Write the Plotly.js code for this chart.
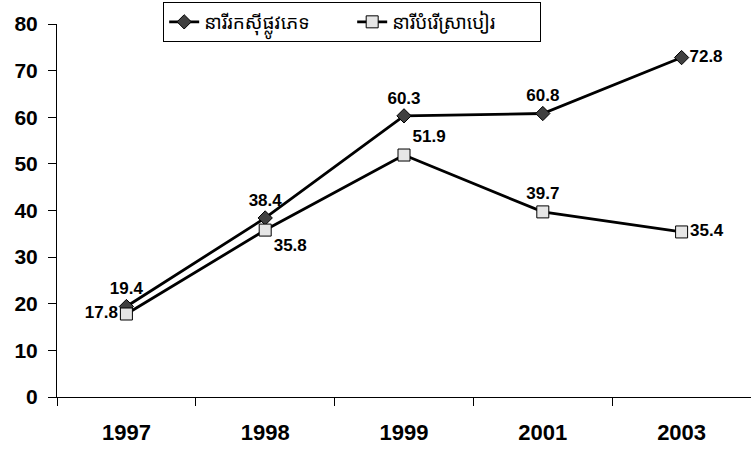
<!DOCTYPE html>
<html><head><meta charset="utf-8">
<script src="https://cdn.plot.ly/plotly-3.0.1.min.js"></script>
<style>html,body{margin:0;padding:0;background:#fff}</style>
</head><body>
<div id="chart" style="width:751px;height:452px"></div>
<script>
const years = ['1997','1998','1999','2001','2003'];
const seriesNames = ['នារីរកស៊ីផ្លូវភេទ', 'នារីបំរើស្រាបៀរ'];
const sexWorkers = [19.4, 38.4, 60.3, 60.8, 72.8];
const beerGirls = [17.8, 35.8, 51.9, 39.7, 35.4];
const yTicks = [0,10,20,30,40,50,60,70,80];

const fontFam = 'Liberation Sans, Arial, "Noto Sans Khmer", sans-serif';
const labelFont = {family: fontFam, size: 17, color: '#000', weight: 700};

const traces = [
  {
    x: years, y: sexWorkers, name: seriesNames[0], type: 'scatter', mode: 'lines+markers+text',
    line: {color: '#000', width: 2.8},
    marker: {symbol: 'diamond', size: 11, color: '#404040', line: {color: '#000', width: 1}},
    text: sexWorkers.map(v => v.toFixed(1)),
    textposition: ['top center','top center','top center','top center','middle right'],
    textfont: labelFont, cliponaxis: false
  },
  {
    x: years, y: beerGirls, name: seriesNames[1], type: 'scatter', mode: 'lines+markers+text',
    line: {color: '#000', width: 2.8},
    marker: {symbol: 'square', size: 12, color: '#e6e6e6', line: {color: '#000', width: 1}},
    text: beerGirls.map(v => v.toFixed(1)),
    textposition: ['middle left','bottom right','top right','top center','middle right'],
    textfont: labelFont, cliponaxis: false
  }
];

const layout = {
  width: 751, height: 452,
  margin: {l: 57, r: 0, t: 24, b: 55},
  paper_bgcolor: '#fff', plot_bgcolor: '#fff',
  font: {family: fontFam, size: 18, color: '#000'},
  showlegend: true,
  legend: {
    orientation: 'h', x: 0.153, y: 1.059, xanchor: 'left', yanchor: 'top',
    bordercolor: '#000', borderwidth: 1, bgcolor: '#fff',
    entrywidth: 143, entrywidthmode: 'pixels',
    font: {family: '"Noto Sans Khmer", "Khmer OS", ' + fontFam, size: 19, color: '#000'}
  },
  xaxis: {
    type: 'category', range: [-0.5, 4.5], tickson: 'boundaries',
    showline: true, linecolor: '#000', linewidth: 1,
    ticks: 'outside', ticklen: 8, tickcolor: '#000',
    showgrid: false, zeroline: false,
    ticklabelstandoff: 16,
    tickfont: {family: fontFam, size: 22, color: '#000', weight: 700}
  },
  yaxis: {
    range: [0, 80], tickvals: yTicks, ticktext: yTicks.map(String),
    showline: true, linecolor: '#000', linewidth: 1,
    ticks: 'outside', ticklen: 8, tickcolor: '#000',
    showgrid: false, zeroline: false, ticklabelstandoff: 6,
    tickfont: {family: fontFam, size: 21, color: '#000', weight: 700}
  }
};

Plotly.newPlot('chart', traces, layout, {displayModeBar: false, staticPlot: true});
</script>
</body></html>
